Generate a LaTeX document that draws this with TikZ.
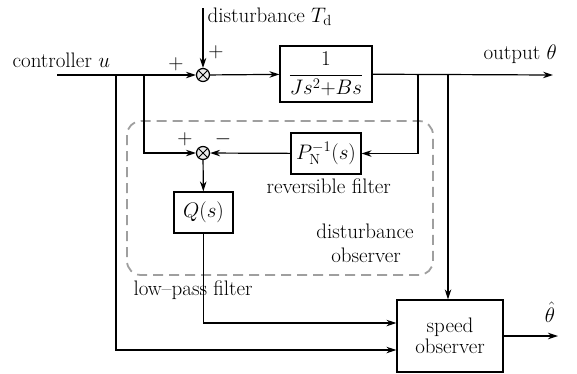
\RequirePackage{fix-cm}
\documentclass[tikz,border=0pt]{standalone}
\usepackage{fontspec}
\usetikzlibrary{arrows.meta}
\begin{document}
\begin{tikzpicture}[x=1pt,y=-1pt,
  font=\fontsize{21}{24}\selectfont,
  line width=1.2pt,
  >={Stealth[length=10pt,width=6.5pt]},
  block/.style={draw, line width=1.2pt, inner sep=0pt},
  sumj/.style={circle, draw, fill=gray!15, minimum size=13pt, inner sep=0pt},
  lbl/.style={inner sep=0pt}]
\useasboundingbox (0,0) rectangle (577,373);
% dashed observer frame
\draw[gray!75, line width=1.8pt, rounded corners=14pt, dash pattern=on 10pt off 6pt] (127,121) rectangle (433,275);
% nodes
\node[sumj] (s1) at (203,75) {};
\node[sumj] (s2) at (203,153) {};
\draw[line width=0.9pt] (s1.north east) -- (s1.south west) (s1.north west) -- (s1.south east);
\draw[line width=0.9pt] (s2.north east) -- (s2.south west) (s2.north west) -- (s2.south east);
\node[block, minimum width=92pt, minimum height=56pt] (G) at (326,74) {$\displaystyle\frac{1}{Js^2{+}Bs}$};
\node[block, minimum width=70pt, minimum height=41pt] (P) at (326,153.5) {$P_{\mathrm N}^{-1}(s)$};
\node[block, minimum width=59pt, minimum height=41pt] (Q) at (203.5,212.5) {$Q(s)$};
\node[block, minimum width=106pt, minimum height=72pt, align=center] (SO) at (450,336) {speed\\[-3pt]observer};
% coordinates
\coordinate (uin) at (57,75);
\coordinate (b1) at (116,75);
\coordinate (b2) at (144,75);
\coordinate (o1) at (418,75);
\coordinate (o2) at (448,75);
\coordinate (out) at (553,75);
\coordinate (dtop) at (203,8);
\coordinate (thout) at (558,336);
% connectors
\draw[->] (uin) -- (s1);
\draw[->] (dtop) -- (s1);
\draw[->] (s1) -- (G);
\draw[->] (G) -- (out);
\draw[->] (o1) |- (P.east);
\draw[->] (P) -- (s2);
\draw[->] (b2) |- (s2);
\draw[->] (s2) -- (Q);
\draw[->] (Q.south) |- ([yshift=13pt]SO.west);
\draw[->] (b1) |- ([yshift=-14pt]SO.west);
\draw[->] (o2) -- (o2 |- SO.north);
\draw[->] (SO.east |- thout) -- (thout);
% labels
\node[lbl, anchor=base west] (tu) at (12,67) {controller $u$};
\node[lbl] (p1) at (176,64) {$+$};
\node[lbl] (p2) at (216,52) {$+$};
\node[lbl, anchor=base west] (td) at (207,22) {disturbance $T_{\mathrm d}$};
\node[lbl, anchor=base west] (to) at (483,59) {output $\theta$};
\node[lbl] (p3) at (185,139) {$+$};
\node[lbl] (m3) at (223,139) {$-$};
\node[lbl, anchor=base west] (tr) at (266,193) {reversible filter};
\node[lbl, anchor=base] (tdo1) at (365,238) {disturbance};
\node[lbl, anchor=base] (tdo2) at (366,262) {observer};
\node[lbl, anchor=base west] (tl) at (133,295) {low--pass filter};
\node[lbl, anchor=base] (th) at (550,322) {$\hat\theta$};
\end{tikzpicture}
\end{document}
